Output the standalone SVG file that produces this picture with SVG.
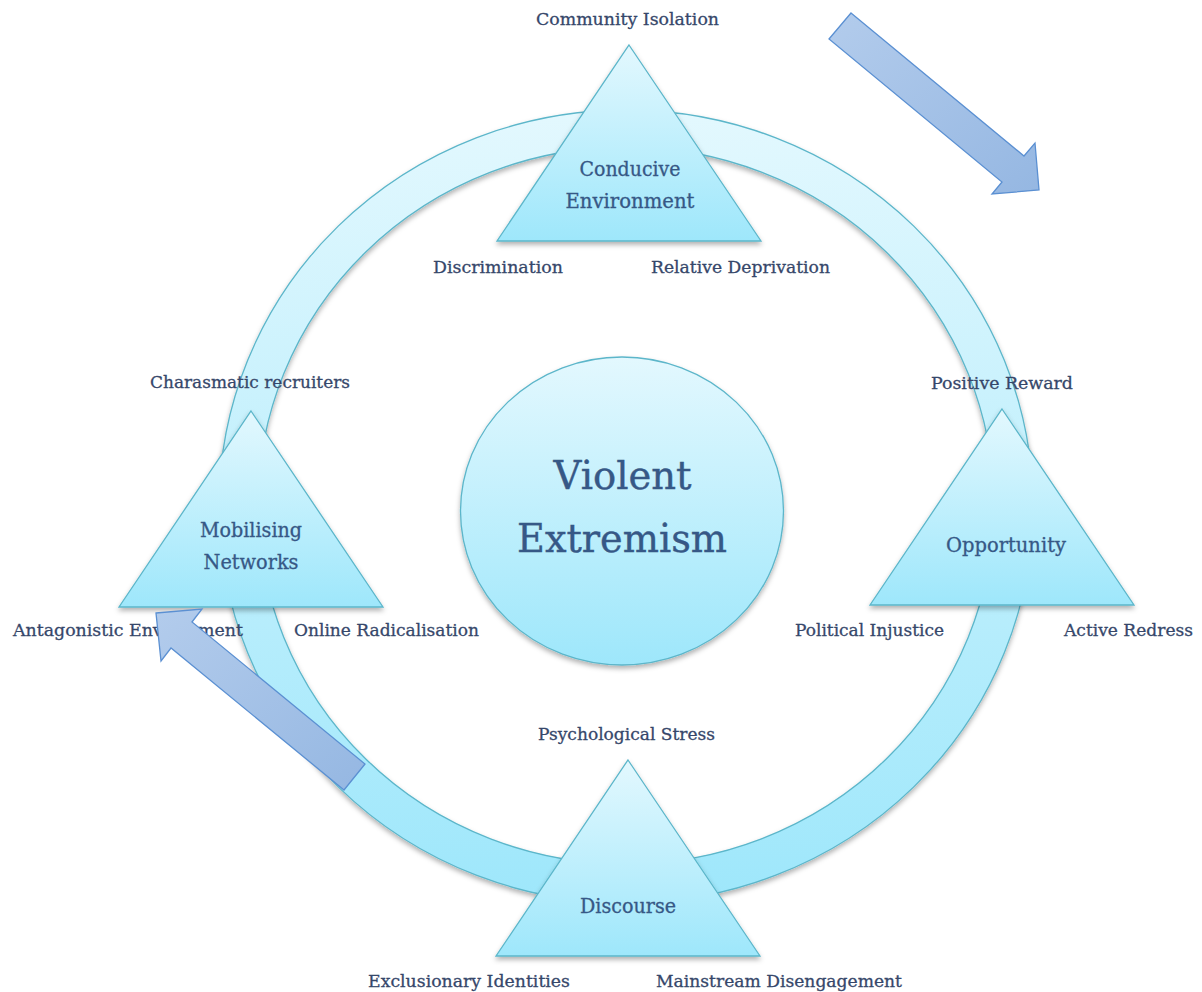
<svg xmlns="http://www.w3.org/2000/svg" width="1202" height="992" viewBox="0 0 1202 992">
  <defs>
    <linearGradient id="gAqua" x1="0" y1="0" x2="0" y2="1">
      <stop offset="0" stop-color="#e3f8fe"/>
      <stop offset="1" stop-color="#9ee7fb"/>
    </linearGradient>
    <linearGradient id="gArrow" x1="0" y1="0" x2="1" y2="1">
      <stop offset="0" stop-color="#b3ccec"/>
      <stop offset="1" stop-color="#95b7e2"/>
    </linearGradient>
    <filter id="shadow" x="-10%" y="-10%" width="120%" height="125%">
      <feDropShadow dx="0" dy="3" stdDeviation="2.5" flood-color="#000" flood-opacity="0.3"/>
    </filter>
    <style>
      .aqua { fill: url(#gAqua); stroke: #5cb6ca; stroke-width: 1.3; filter: url(#shadow); }
      .arrow { fill: url(#gArrow); stroke: #5b90d2; stroke-width: 1.3; stroke-linejoin: miter; }
      .lbl { font-family: "DejaVu Serif", "Liberation Serif", serif; font-size: 17.5px; fill: #36476a; stroke: #36476a; stroke-width: 0.3; text-anchor: middle; }
      .in { font-family: "DejaVu Serif", "Liberation Serif", serif; font-size: 19.5px; fill: #365886; stroke: #365886; stroke-width: 0.3; text-anchor: middle; }
      .big { font-family: "DejaVu Serif", "Liberation Serif", serif; font-size: 38.5px; fill: #365886; stroke: #365886; stroke-width: 0.4; text-anchor: middle; }
    </style>
  </defs>
  <rect width="1202" height="992" fill="#ffffff"/>

  <g id="cycle-ring">
    <path class="aqua" fill-rule="evenodd" d="M219,506.5 a407,396.5 0 1,0 814,0 a407,396.5 0 1,0 -814,0 Z M258,505.5 a368,358.5 0 1,0 736,0 a368,358.5 0 1,0 -736,0 Z"/>
  </g>

  <g id="node-conducive-environment">
    <polygon class="aqua" points="629,45 761,241 497,241"/>
    <text class="in" x="630" y="176" textLength="101" lengthAdjust="spacingAndGlyphs">Conducive</text>
    <text class="in" x="630" y="208" textLength="129" lengthAdjust="spacingAndGlyphs">Environment</text>
    <text class="lbl" x="627.5" y="25" textLength="183" lengthAdjust="spacingAndGlyphs">Community Isolation</text>
    <text class="lbl" x="498" y="273" textLength="130" lengthAdjust="spacingAndGlyphs">Discrimination</text>
    <text class="lbl" x="740.5" y="273" textLength="179" lengthAdjust="spacingAndGlyphs">Relative Deprivation</text>
  </g>

  <g id="node-mobilising-networks">
    <polygon class="aqua" points="251,411 383,607 119,607"/>
    <text class="in" x="251" y="536.5" textLength="102" lengthAdjust="spacingAndGlyphs">Mobilising</text>
    <text class="in" x="251" y="569" textLength="95" lengthAdjust="spacingAndGlyphs">Networks</text>
    <text class="lbl" x="250" y="388" textLength="200" lengthAdjust="spacingAndGlyphs">Charasmatic recruiters</text>
    <text class="lbl" x="128" y="635.5" textLength="230" lengthAdjust="spacingAndGlyphs">Antagonistic Environment</text>
    <text class="lbl" x="386.5" y="636" textLength="185" lengthAdjust="spacingAndGlyphs">Online Radicalisation</text>
  </g>

  <g id="node-opportunity">
    <polygon class="aqua" points="1002,409 1134,605 870,605"/>
    <text class="in" x="1006" y="551.5" textLength="120" lengthAdjust="spacingAndGlyphs">Opportunity</text>
    <text class="lbl" x="1002" y="389" textLength="142" lengthAdjust="spacingAndGlyphs">Positive Reward</text>
    <text class="lbl" x="869.5" y="635.5" textLength="149" lengthAdjust="spacingAndGlyphs">Political Injustice</text>
    <text class="lbl" x="1128.5" y="636" textLength="129" lengthAdjust="spacingAndGlyphs">Active Redress</text>
  </g>

  <g id="node-discourse">
    <polygon class="aqua" points="628,760 760,956 496,956"/>
    <text class="in" x="628" y="913" textLength="96" lengthAdjust="spacingAndGlyphs">Discourse</text>
    <text class="lbl" x="626.5" y="740" textLength="177" lengthAdjust="spacingAndGlyphs">Psychological Stress</text>
    <text class="lbl" x="469" y="987" textLength="202" lengthAdjust="spacingAndGlyphs">Exclusionary Identities</text>
    <text class="lbl" x="779" y="987" textLength="246" lengthAdjust="spacingAndGlyphs">Mainstream Disengagement</text>
  </g>

  <g id="node-violent-extremism">
    <ellipse class="aqua" cx="622" cy="511" rx="161.5" ry="154"/>
    <text class="big" x="622.5" y="489" textLength="138" lengthAdjust="spacingAndGlyphs">Violent</text>
    <text class="big" x="622" y="552" textLength="210" lengthAdjust="spacingAndGlyphs">Extremism</text>
  </g>

  <g id="connectors">
    <polygon class="arrow" points="851,13 1024,156 1035,143 1039,190 992,194 1002,182 829,39"/>
    <polygon class="arrow" points="156,613 202,609 192,622 365,764 344,790 171,648 161,661"/>
  </g>
</svg>
